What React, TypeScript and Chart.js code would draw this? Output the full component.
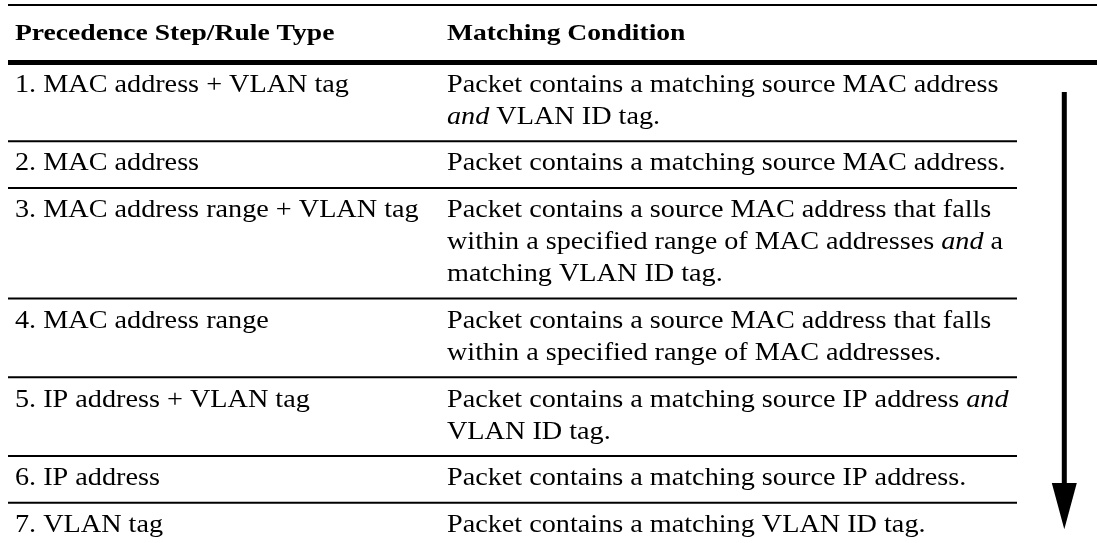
import React, { useEffect, useRef } from "react";
import { Chart, registerables } from "chart.js";

Chart.register(...registerables);

// ---------- data ----------
const headerLabels = ["Precedence Step/Rule Type", "Matching Condition"];

const ruleTypes = [
  "1. MAC address + VLAN tag",
  "2. MAC address",
  "3. MAC address range + VLAN tag",
  "4. MAC address range",
  "5. IP address + VLAN tag",
  "6. IP address",
  "7. VLAN tag",
];

// text between *...* is italic
const matchingConditions = [
  ["Packet contains a matching source MAC address", "*and* VLAN ID tag."],
  ["Packet contains a matching source MAC address."],
  [
    "Packet contains a source MAC address that falls",
    "within a specified range of MAC addresses *and* a",
    "matching VLAN ID tag.",
  ],
  [
    "Packet contains a source MAC address that falls",
    "within a specified range of MAC addresses.",
  ],
  ["Packet contains a matching source IP address *and*", "VLAN ID tag."],
  ["Packet contains a matching source IP address."],
  ["Packet contains a matching VLAN ID tag."],
];

// ---------- layout (in scale units = pixels) ----------
const W = 1097;
const H = 543;
const TABLE_LEFT = 8;
const TABLE_RIGHT = 1017;
const FULL_RIGHT = 1097;
const COL1_X = 15;
const COL2_X = 447;
const TOP_RULE_Y = 5;
const HEADER_BASELINE = 40;
const HEAD_RULE_Y = 62.5;
const FIRST_OFFSET = 29.2;
const LINE_STEP = 32;
const SEP_OFFSET = 17.5;
const ARROW_X = 1064.3;
const ARROW_TOP = 92;
const ARROW_HEAD_TOP = 483;
const ARROW_TIP = 529.3;
const ARROW_HALF = 12.5;

const BODY_SIZE = 25.5;
const BODY_SX = 1.106;
const HEAD_SIZE = 23;
const HEAD_SX = 1.2;
const FAMILY = '"Liberation Serif", "Times New Roman", serif';

type RowLayout = { baselines: number[]; bottom: number };

function computeRows(): RowLayout[] {
  const rows: RowLayout[] = [];
  let sep = HEAD_RULE_Y;
  matchingConditions.forEach((lines) => {
    const first = sep + FIRST_OFFSET;
    const baselines = lines.map((_, i) => first + i * LINE_STEP);
    const bottom = baselines[baselines.length - 1] + SEP_OFFSET;
    rows.push({ baselines, bottom });
    sep = bottom;
  });
  return rows;
}

function drawRich(
  ctx: CanvasRenderingContext2D,
  text: string,
  px: number,
  py: number,
  size: number,
  weight: string,
  sx: number
) {
  const parts = text.split("*");
  ctx.save();
  ctx.translate(px, py);
  ctx.scale(sx, 1);
  ctx.fillStyle = "#000";
  ctx.textAlign = "left";
  ctx.textBaseline = "alphabetic";
  let cx = 0;
  parts.forEach((p, i) => {
    if (!p) return;
    ctx.font = `${i % 2 ? "italic " : ""}${weight} ${size}px ${FAMILY}`;
    ctx.fillText(p, cx, 0);
    cx += ctx.measureText(p).width;
  });
  ctx.restore();
}

export default function App() {
  const canvasRef = useRef<HTMLCanvasElement | null>(null);

  useEffect(() => {
    if (!canvasRef.current) return;
    const rows = computeRows();

    const ruleDs = (x0: number, x1: number, yv: number, w: number) => ({
      data: [
        { x: x0, y: yv },
        { x: x1, y: yv },
      ],
      borderColor: "#000",
      borderWidth: w,
      borderCapStyle: "butt" as const,
      pointRadius: 0,
      fill: false,
      tension: 0,
      clip: false as const,
    });

    const datasets: any[] = [
      ruleDs(TABLE_LEFT, FULL_RIGHT, TOP_RULE_Y, 2),
      ruleDs(TABLE_LEFT, FULL_RIGHT, HEAD_RULE_Y, 5),
    ];
    rows.slice(0, rows.length - 1).forEach((r) => {
      datasets.push(ruleDs(TABLE_LEFT, TABLE_RIGHT, r.bottom, 2));
    });
    // arrow shaft
    datasets.push({
      data: [
        { x: ARROW_X, y: ARROW_TOP },
        { x: ARROW_X, y: ARROW_HEAD_TOP + 2 },
      ],
      borderColor: "#000",
      borderWidth: 5,
      borderCapStyle: "butt",
      pointRadius: 0,
      fill: false,
      clip: false,
    });

    const tablePlugin = {
      id: "tableText",
      afterDatasetsDraw(chart: any) {
        const { ctx, scales } = chart;
        const xs = scales.x;
        const ys = scales.y;
        const px = (v: number) => xs.getPixelForValue(v);
        const py = (v: number) => ys.getPixelForValue(v);

        // arrow head
        ctx.save();
        ctx.fillStyle = "#000";
        ctx.beginPath();
        ctx.moveTo(px(ARROW_X - ARROW_HALF), py(ARROW_HEAD_TOP));
        ctx.lineTo(px(ARROW_X + ARROW_HALF), py(ARROW_HEAD_TOP));
        ctx.lineTo(px(ARROW_X), py(ARROW_TIP));
        ctx.closePath();
        ctx.fill();
        ctx.restore();

        // header
        drawRich(ctx, headerLabels[0], px(COL1_X), py(HEADER_BASELINE), HEAD_SIZE, "bold", HEAD_SX);
        drawRich(ctx, headerLabels[1], px(COL2_X), py(HEADER_BASELINE), HEAD_SIZE, "bold", HEAD_SX);

        // body
        rows.forEach((r, i) => {
          drawRich(ctx, ruleTypes[i], px(COL1_X), py(r.baselines[0]), BODY_SIZE, "normal", BODY_SX);
          matchingConditions[i].forEach((line, j) => {
            drawRich(ctx, line, px(COL2_X), py(r.baselines[j]), BODY_SIZE, "normal", BODY_SX);
          });
        });
      },
    };

    const chart = new Chart(canvasRef.current, {
      type: "line",
      data: { datasets },
      options: {
        responsive: false,
        maintainAspectRatio: false,
        animation: false,
        events: [],
        layout: { padding: 0 },
        plugins: {
          legend: { display: false },
          tooltip: { enabled: false },
        },
        scales: {
          x: { type: "linear", min: 0, max: W, display: false },
          y: { type: "linear", min: 0, max: H, reverse: true, display: false },
        },
      },
      plugins: [tablePlugin],
    });

    return () => chart.destroy();
  }, []);

  return (
    <div
      style={{
        position: "absolute",
        left: 0,
        top: 0,
        width: W,
        height: H,
        background: "#fff",
      }}
    >
      <canvas ref={canvasRef} width={W} height={H} style={{ display: "block" }} />
    </div>
  );
}
